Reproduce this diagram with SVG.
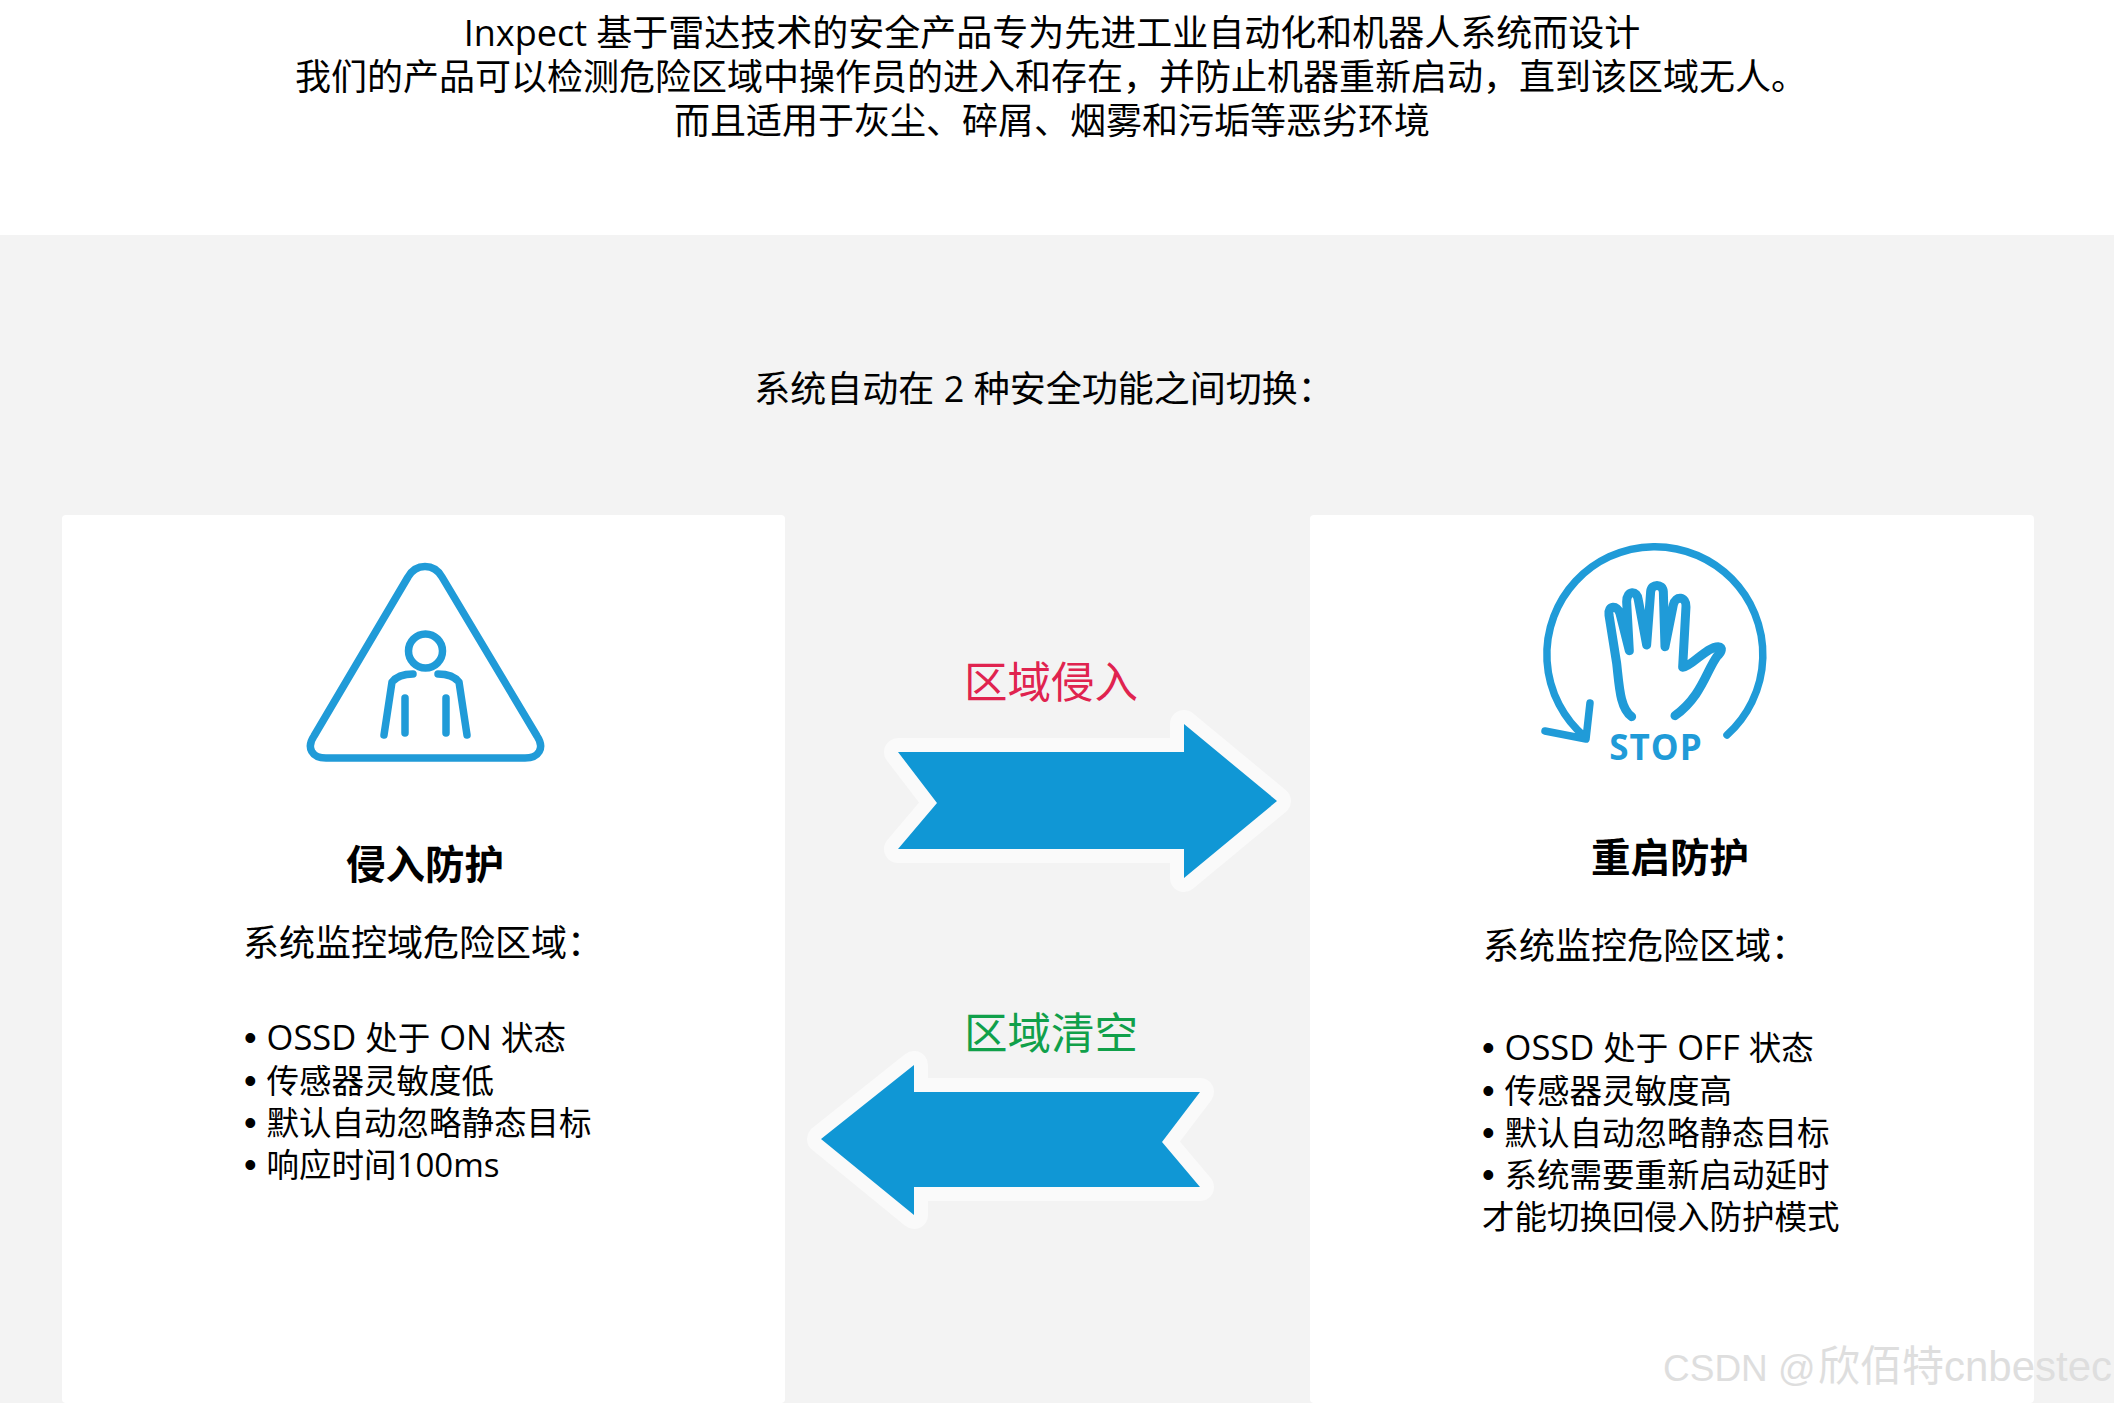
<svg xmlns="http://www.w3.org/2000/svg" width="2114" height="1403" viewBox="0 0 2114 1403">
<style>
text{font-family:"Open Sans","Noto Sans CJK SC",sans-serif;font-size:36px;fill:#000}
.m{text-anchor:middle}
.s{font-size:32.5px}
.a{font-size:34.5px}
.n{font-size:33px}
.b{font-family:"Liberation Sans",sans-serif;font-size:36px}
.h{font-family:"Noto Sans CJK SC",sans-serif;font-size:39.500px;font-weight:700;text-anchor:middle}
.l{font-family:"Noto Sans CJK SC",sans-serif;font-size:43.500px;text-anchor:middle}
.card{fill:#fff}
.arrow{fill:#1097d5;stroke:#fafafa;stroke-width:28;stroke-linejoin:round;paint-order:stroke}
.ic{fill:none;stroke:#209bd8;stroke-width:7.5;stroke-linecap:round;stroke-linejoin:round}
</style>
<rect width="2114" height="1403" fill="#fff"/>
<rect y="235" width="2114" height="1168" fill="#f3f3f3"/>
<g id="intro">
<text class="m" x="1052" y="46">Inxpect 基于雷达技术的安全产品专为先进工业自动化和机器人系统而设计</text>
<text class="m" x="1051" y="90">我们的产品可以检测危险区域中操作员的进入和存在，并防止机器重新启动，直到该区域无人。</text>
<text class="m" x="1052" y="134">而且适用于灰尘、碎屑、烟雾和污垢等恶劣环境</text>
<text class="m" x="1044" y="402">系统自动在 2 种安全功能之间切换：</text>
</g>
<g id="intrusion">
<rect class="card" x="62" y="515" width="723" height="888" rx="4"/>
<path class="ic" d="M408,577 C416,563 434,563 442,577 L537,736 C545,748 539,758 525,758 L326,758 C312,758 306,748 314,736 Z"/>
<circle class="ic" cx="425.500" cy="651" r="17"/>
<path class="ic" d="M413,674 C403,674 396,677 392,682 L384,735 M438,674 C448,674 455,677 459,682 L467,735 M405,698 V733 M446,698 V733"/>
<text class="h" x="425" y="879">侵入防护</text>
<text x="243" y="956">系统监控域危险区域：</text>
<text class="s" x="244" y="1050"><tspan class="b">• </tspan><tspan class="a">OSSD </tspan>处于<tspan class="a"> ON </tspan>状态</text>
<text class="s" x="244" y="1093"><tspan class="b">• </tspan>传感器灵敏度低</text>
<text class="s" x="244" y="1135"><tspan class="b">• </tspan>默认自动忽略静态目标</text>
<text class="s" x="244" y="1177"><tspan class="b">• </tspan>响应时间<tspan class="n">100ms</tspan></text>
</g>
<g id="restart">
<rect class="card" x="1310" y="515" width="724" height="888" rx="4"/>
<path class="ic" d="M1585,737 A108,108 0 1 1 1727,735 M1545,731 L1586,739 L1590,703"/>
<path class="ic" style="stroke-width:27" transform="translate(1510,530) scale(0.3333)" d="M365,560 C330,535 328,470 320,400 L297,255 C293,225 322,225 330,250 L358,362 L350,215 C350,180 382,180 385,210 L410,345 L422,185 C424,160 458,160 460,185 L465,350 L490,225 C496,195 530,200 528,230 L518,412 C545,410 590,350 625,350 C640,350 635,368 622,378 C590,420 575,500 495,557"/>
<text x="1656" y="760" text-anchor="middle" style="font-family:'Open Sans',sans-serif;font-size:35px;font-weight:700;letter-spacing:1px;fill:#209bd8">STOP</text>
<text class="h" x="1670" y="872">重启防护</text>
<text x="1483" y="959">系统监控危险区域：</text>
<text class="s" x="1482" y="1060"><tspan class="b">• </tspan><tspan class="a">OSSD </tspan>处于<tspan class="a"> OFF </tspan>状态</text>
<text class="s" x="1482" y="1103"><tspan class="b">• </tspan>传感器灵敏度高</text>
<text class="s" x="1482" y="1145"><tspan class="b">• </tspan>默认自动忽略静态目标</text>
<text class="s" x="1482" y="1187"><tspan class="b">• </tspan>系统需要重新启动延时</text>
<text class="s" x="1482" y="1229">才能切换回侵入防护模式</text>
</g>
<g id="connectors">
<path class="arrow" d="M898,752 H1184 V724 L1277,801 L1184,878 V849 H898 L937,803 Z"/>
<path class="arrow" d="M821,1139 L914,1065 V1092 H1200 L1162,1142 L1200,1187 H914 V1215 Z"/>
<text class="l" x="1051" y="698" style="fill:#e0234f">区域侵入</text>
<text class="l" x="1051" y="1049" style="fill:#10a04a">区域清空</text>
</g>
<text x="1663" y="1381" style="font-family:'Liberation Sans','Noto Sans CJK SC',sans-serif;font-size:37px;fill:#dedede">CSDN @<tspan x="1818" style="font-size:42px">欣佰特cnbestec</tspan></text>
</svg>
